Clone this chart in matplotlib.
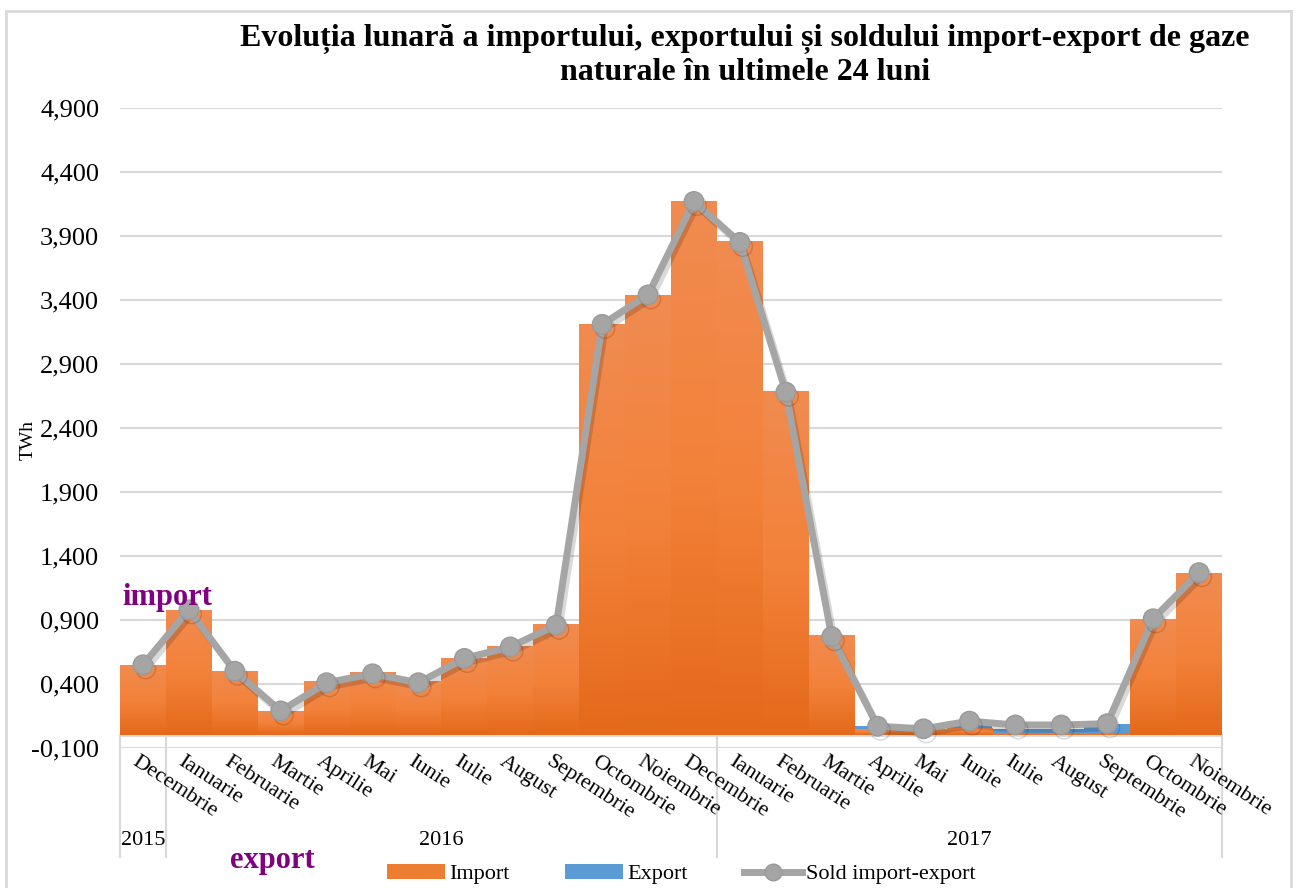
import matplotlib
import numpy as np

matplotlib.use("Agg")
import matplotlib.pyplot as plt
import matplotlib.patheffects as pe
from matplotlib.colors import LinearSegmentedColormap
from matplotlib.lines import Line2D
from matplotlib.patches import Patch, Rectangle
from matplotlib.transforms import blended_transform_factory

plt.rcParams["font.family"] = ["Liberation Serif", "DejaVu Serif"]

MONTHS = [
    "Decembrie",
    "Ianuarie", "Februarie", "Martie", "Aprilie", "Mai", "Iunie",
    "Iulie", "August", "Septembrie", "Octombrie", "Noiembrie", "Decembrie",
    "Ianuarie", "Februarie", "Martie", "Aprilie", "Mai", "Iunie",
    "Iulie", "August", "Septembrie", "Octombrie", "Noiembrie",
]
YEARS = ["2015", "2016", "2017"]
YEAR_SPANS = [(0, 0), (1, 12), (13, 23)]

IMPORT = [
    0.55, 0.98, 0.50, 0.19, 0.42, 0.49, 0.42, 0.60, 0.70, 0.87, 3.21, 3.44,
    4.17, 3.86, 2.69, 0.78, 0.05, 0.05, 0.06, 0.01, 0.01, 0.01, 0.91, 1.27,
]
EXPORT = [
    0, 0, 0, 0, 0, 0, 0, 0, 0, 0, 0, 0,
    0, 0, 0, 0, 0.07, 0.03, 0.08, 0.05, 0.05, 0.09, 0, 0,
]
SOLD = [
    0.55, 0.98, 0.50, 0.19, 0.41, 0.48, 0.41, 0.60, 0.69, 0.86, 3.21, 3.44,
    4.17, 3.85, 2.68, 0.77, 0.07, 0.05, 0.11, 0.08, 0.08, 0.09, 0.91, 1.27,
]

Y_TICKS = np.arange(-0.1, 4.91, 0.5)

ORANGE = "#ED7D31"
BLUE = "#5B9BD5"
GRAY = "#A5A5A5"
GRID = "#D9D9D9"
PURPLE = "#800080"


def fmt(v: float) -> str:
    return f"{v:,.3f}".replace(".", ",")


def main() -> None:
    fig = plt.figure(figsize=(12.98, 8.88), dpi=100)
    ax = fig.add_axes([120 / 1298, 140 / 888, 1102 / 1298, 640 / 888])

    x = np.arange(len(MONTHS))

    ax.bar(x, EXPORT, width=1.0, color=BLUE, zorder=2)
    import_bars = ax.bar(x, IMPORT, width=1.0, color=ORANGE, zorder=3)

    # vertical gradient inside every import bar
    grad = LinearSegmentedColormap.from_list("imp", ["#E4691A", "#F3823A", "#F08B50"])
    for bar in import_bars:
        x0, w, h = bar.get_x(), bar.get_width(), bar.get_height()
        im = ax.imshow(
            np.linspace(0, 1, 256).reshape(-1, 1),
            cmap=grad,
            origin="lower",
            extent=[x0, x0 + w, 0, h],
            aspect="auto",
            zorder=3,
        )
        im.set_clip_path(bar)

    ax.plot(
        x,
        SOLD,
        color=GRAY,
        linewidth=5,
        marker="o",
        markersize=14,
        markerfacecolor=GRAY,
        markeredgecolor="#9A9A9A",
        zorder=5,
        path_effects=[
            pe.SimpleLineShadow(offset=(2, -3), shadow_color="k", alpha=0.15),
            pe.Normal(),
        ],
    )

    ax.set_xlim(-0.5, len(MONTHS) - 0.5)
    ax.set_ylim(-0.1, 4.9)
    ax.set_yticks(Y_TICKS)
    ax.set_yticklabels([fmt(v) for v in Y_TICKS], fontsize=19)
    ax.tick_params(axis="y", length=0, pad=15)
    ax.set_xticks([])
    ax.grid(axis="y", color=GRID, linewidth=1.5)
    ax.set_axisbelow(True)
    ax.axhline(0, color=GRID, linewidth=2, zorder=1)
    for side in ["top", "right", "left", "bottom"]:
        ax.spines[side].set_visible(False)

    fig.text(28 / 1298, 1 - 440 / 888, "TWh", rotation=90,
             ha="center", va="center", fontsize=14)

    trans = blended_transform_factory(ax.transData, ax.transAxes)
    for i, name in enumerate(MONTHS):
        ax.text(
            i - 0.08, -0.006, name,
            transform=trans, rotation=-33, rotation_mode="anchor",
            ha="left", va="top", fontsize=16,
        )

    for label, (a, b) in zip(YEARS, YEAR_SPANS):
        ax.text(
            (a + b) / 2, -0.145, label,
            transform=trans, ha="center", va="center", fontsize=16,
        )

    for sep in [-0.5, 0.5, 12.5, 23.5]:
        ax.plot(
            [sep, sep], [0.02, -0.17],
            transform=trans, color=GRID, linewidth=1.5, clip_on=False,
        )

    fig.text(
        745 / 1298, 1 - 24 / 888,
        "Evoluția lunară a importului, exportului și soldului import-export de gaze\n"
        "naturale în ultimele 24 luni",
        ha="center", va="top", fontsize=23, fontweight="bold", linespacing=1.2,
    )

    fig.text(122 / 1298, 1 - 597 / 888, "import", color=PURPLE,
             fontsize=22, fontweight="bold", ha="left", va="center")
    fig.text(230 / 1298, 1 - 860 / 888, "export", color=PURPLE,
             fontsize=22, fontweight="bold", ha="left", va="center")

    handles = [
        Patch(facecolor=ORANGE, edgecolor="none"),
        Patch(facecolor=BLUE, edgecolor="none"),
        Line2D([], [], color=GRAY, linewidth=5, marker="o", markersize=12,
               markerfacecolor=GRAY, markeredgecolor="#9A9A9A"),
    ]
    fig.legend(
        handles, ["Import", "Export", "Sold import-export"],
        loc="center", bbox_to_anchor=(0.525, 1 - 874 / 888), ncol=3,
        frameon=False, fontsize=16, handlelength=2.6, columnspacing=2.5,
        handletextpad=0.2,
    )

    fig.patches.append(
        Rectangle((6 / 1298, -0.05), 1285 / 1298, 1.05 - 11 / 888,
                  transform=fig.transFigure, fill=False,
                  edgecolor=GRID, linewidth=2)
    )

    fig.savefig("out.png", dpi=100)
    plt.close(fig)


if __name__ == "__main__":
    main()
